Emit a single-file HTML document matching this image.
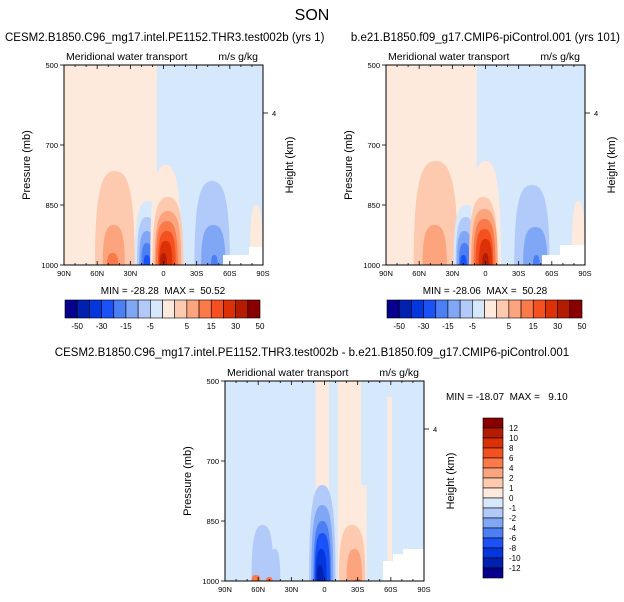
<!DOCTYPE html>
<html><head><meta charset="utf-8"><style>
body{margin:0;background:#fff;}
svg{display:block;font-family:"Liberation Sans",sans-serif;}
text{white-space:pre;}
</style></head><body>
<svg id="chart" width="624" height="602" viewBox="0 0 624 602" xmlns="http://www.w3.org/2000/svg"></svg>
<script>
// ---- data ----
const levelColors = ['#06008c','#0020b0','#0336dc','#1a52f8','#4c7ef4','#80a6f6','#b2cafa','#d6e8fc','#feeadc','#fdcab0','#fca47e','#fa7a4a','#f45020','#dc3006','#b41c02','#880000'];
const absTickLabels = ['-50','-30','-15','-5','5','15','30','50'];
const diffTickLabels = ['12','10','8','6','4','2','1','0','-1','-2','-4','-6','-8','-10','-12'];
const xTickLabels = ['90N','60N','30N','0','30S','60S','90S'];
const xTickLats = [90,60,30,0,-30,-60,-90];
const yTickPressures = [500,700,850,1000];
// blobs: [centerLat, halfWidthDeg, topPressure, level]
const blobsA = [
  [44,18,765,9],[45,10,900,10],[46,5,970,11],
  [-40,22,780,7],[14,12,840,7],[15,9,880,6],[15,7,915,5],[15,5,945,4],[15,3,975,3],
  [-2,14,750,8],[-4,14,830,9],[-4,12,865,10],[-3,10,890,11],[-3,8,915,12],[-2,6,940,13],[0,3,970,14],
  [-44,16,790,6],[-45,11,900,5],[-46,3,975,4],[-84,6,850,8]
];
const blobsB = [
  [45,20,740,9],[46,11,900,10],
  [-40,22,790,7],[17,12,850,7],[18,9,880,6],[19,7,915,5],[19,5,945,4],[20,3,975,3],
  [0,14,740,8],[2,13,830,9],[1,12,860,10],[1,10,885,11],[1,8,910,12],[0,6,935,13],[0,3,970,14],
  [-42,16,800,6],[-45,11,905,5],[-46,3,975,4],[-84,6,840,8]
];
const blobsDiff = [
  [56,10,860,6],[45,5,920,6],[2,12,760,6],[2,10,810,5],[2,8,850,4],[2,7,880,3],[3,5,920,2],[4,3,960,1],
  [-25,12,860,9],[-27,7,920,10],[62,4,985,11],[50,3,990,11],[-30,3,995,11]
];
// vertical background strips: [latLeft, latRight, topPressure, level]
const stripsA = [[90,6,500,8]];
const stripsB = [[90,8,500,8]];
const stripsDiff = [[8,-4,500,8],[-12,-33,500,8],[-20,-38,760,8],[-57,-61,540,8]];
const minmax = ['MIN = -28.28  MAX =  50.52','MIN = -28.06  MAX =  50.28','MIN = -18.07  MAX =   9.10'];

const svg = document.getElementById('chart');
const NS = 'http://www.w3.org/2000/svg';
function mk(tag, attrs, parent, text){
  const e = document.createElementNS(NS, tag);
  for (const k in attrs) e.setAttribute(k, attrs[k]);
  if (text !== undefined) e.textContent = text;
  (parent || svg).appendChild(e);
  return e;
}

function drawPanel(x0, y0, bg, strips, blobs, whiteSteps, idx, name){
  const W = 199, H = 200;
  const xs = lat => x0 + (90 - lat) / 180 * W;
  const ys = p => y0 + (p - 500) / 500 * H;
  const g = mk('g', {});
  
  
  const cid = 'clip' + idx;
  const cp = mk('clipPath', {id: cid}, g);
  mk('rect', {x: x0, y: y0, width: W, height: H}, cp);
  const field = mk('g', {'clip-path': 'url(#' + cid + ')'}, g);
  
  
  mk('rect', {x: x0, y: y0, width: W, height: H, fill: levelColors[bg]}, field);
  strips.forEach(s => {
    const r = mk('rect', {x: xs(s[0]), y: ys(s[2]), width: xs(s[1]) - xs(s[0]), height: ys(1000) - ys(s[2]), fill: levelColors[s[3]]}, field);
    
    
  });
  blobs.forEach(b => {
    const cx = xs(b[0]), rx = b[1] / 180 * W, top = ys(b[2]), base = ys(1000);
    const d = 'M' + (cx - rx) + ',' + base + ' C' + (cx - rx) + ',' + (top + (base - top) * 0.15) + ' ' + (cx - rx * 0.6) + ',' + top + ' ' + cx + ',' + top +
      ' C' + (cx + rx * 0.6) + ',' + top + ' ' + (cx + rx) + ',' + (top + (base - top) * 0.15) + ' ' + (cx + rx) + ',' + base + ' Z';
    const p = mk('path', {d: d, fill: levelColors[b[3]]}, field);
    
    
  });
  whiteSteps.forEach(w => mk('rect', {x: x0 + w[0], y: y0 + w[1], width: W - w[0], height: H - w[1], fill: '#fff'}, field));
  mk('rect', {x: x0, y: y0, width: W, height: H, fill: 'none', stroke: '#000', 'stroke-width': 1}, g);
  for (let lat = 90; lat >= -90; lat -= 10) {
    const x = xs(lat), major = lat % 30 === 0, len = major ? 4 : 2;
    mk('line', {x1: x, x2: x, y1: y0 + H, y2: y0 + H - len, stroke: '#000', 'stroke-width': 0.8}, g);
    mk('line', {x1: x, x2: x, y1: y0, y2: y0 + len, stroke: '#000', 'stroke-width': 0.8}, g);
  }
  xTickLats.forEach((lat, i) => {
    const t = mk('text', {x: xs(lat), y: y0 + H + 11, 'font-size': 7.5, 'text-anchor': 'middle'}, g, xTickLabels[i]);
    
    
  });
  yTickPressures.forEach(p => {
    mk('line', {x1: x0, x2: x0 - 4, y1: ys(p), y2: ys(p), stroke: '#000', 'stroke-width': 0.8}, g);
    const t = mk('text', {x: x0 - 6, y: ys(p) + 3, 'font-size': 7.5, 'text-anchor': 'end'}, g, String(p));
    
    
  });
  mk('line', {x1: x0 + W, x2: x0 + W + 5, y1: y0 + 48, y2: y0 + 48, stroke: '#000', 'stroke-width': 0.8}, g);
  mk('text', {x: x0 + W + 9, y: y0 + 51, 'font-size': 7.5}, g, '4');
  const yt = mk('text', {x: 0, y: 0, 'font-size': 11, 'text-anchor': 'middle', transform: 'translate(' + (x0 - 34) + ',' + (y0 + 100) + ') rotate(-90)'}, g, 'Pressure (mb)');
  
  
  const ht = mk('text', {x: 0, y: 0, 'font-size': 11, 'text-anchor': 'middle', transform: 'translate(' + (x0 + W + 30) + ',' + (y0 + 100) + ') rotate(-90)'}, g, 'Height (km)');
  
  
  mk('text', {x: x0 + 2, y: y0 - 5, 'font-size': 10.5}, g, 'Meridional water transport');
  mk('text', {x: x0 + W - 5, y: y0 - 5, 'font-size': 10.5, 'text-anchor': 'end'}, g, 'm/s g/kg');
}

function hbar(x0, y0, name){
  const g = mk('g', {});
  
  
  const bw = 195 / 16;
  levelColors.forEach((c, i) => mk('rect', {x: x0 + i * bw, y: y0, width: bw, height: 18, fill: c, stroke: '#000', 'stroke-width': 0.6}, g));
  absTickLabels.forEach((l, i) => mk('text', {x: x0 + (i * 2 + 1) * bw + (i >= 4 ? bw : 0), y: y0 + 29, 'font-size': 8, 'text-anchor': 'middle'}, g, l));
}

mk('text', {x: 312, y: 20, 'font-size': 16, 'text-anchor': 'middle'}, svg, 'SON');
mk('text', {x: 5, y: 41, 'font-size': 11.5}, svg, 'CESM2.B1850.C96_mg17.intel.PE1152.THR3.test002b (yrs 1)');
mk('text', {x: 620, y: 41, 'font-size': 11.5, 'text-anchor': 'end'}, svg, 'b.e21.B1850.f09_g17.CMIP6-piControl.001 (yrs 101)');
mk('text', {x: 312, y: 356, 'font-size': 11.5, 'text-anchor': 'middle'}, svg, 'CESM2.B1850.C96_mg17.intel.PE1152.THR3.test002b - b.e21.B1850.f09_g17.CMIP6-piControl.001');

drawPanel(64, 65, 7, stripsA, blobsA, [[159,190],[185,182]], 0, 'panel-test');
drawPanel(386, 65, 7, stripsB, blobsB, [[156,190],[174,180]], 1, 'panel-control');
drawPanel(225, 381, 7, stripsDiff, blobsDiff, [[158,180],[168,173],[178,168]], 2, 'panel-difference');

mk('text', {x: 163, y: 294, 'font-size': 10, 'text-anchor': 'middle'}, svg, minmax[0]);
mk('text', {x: 485, y: 294, 'font-size': 10, 'text-anchor': 'middle'}, svg, minmax[1]);
mk('text', {x: 446, y: 400, 'font-size': 10}, svg, minmax[2]);

hbar(65, 300, 'colorbar-test');
hbar(387, 300, 'colorbar-control');

const vb = mk('g', {});


const bh = 160 / 16;
levelColors.slice().reverse().forEach((c, i) => mk('rect', {x: 483, y: 418 + i * bh, width: 20, height: bh, fill: c, stroke: '#000', 'stroke-width': 0.6}, vb));
diffTickLabels.forEach((l, i) => mk('text', {x: 509, y: 418 + (i + 1) * bh + 3, 'font-size': 8}, vb, l));
</script>
</body></html>
